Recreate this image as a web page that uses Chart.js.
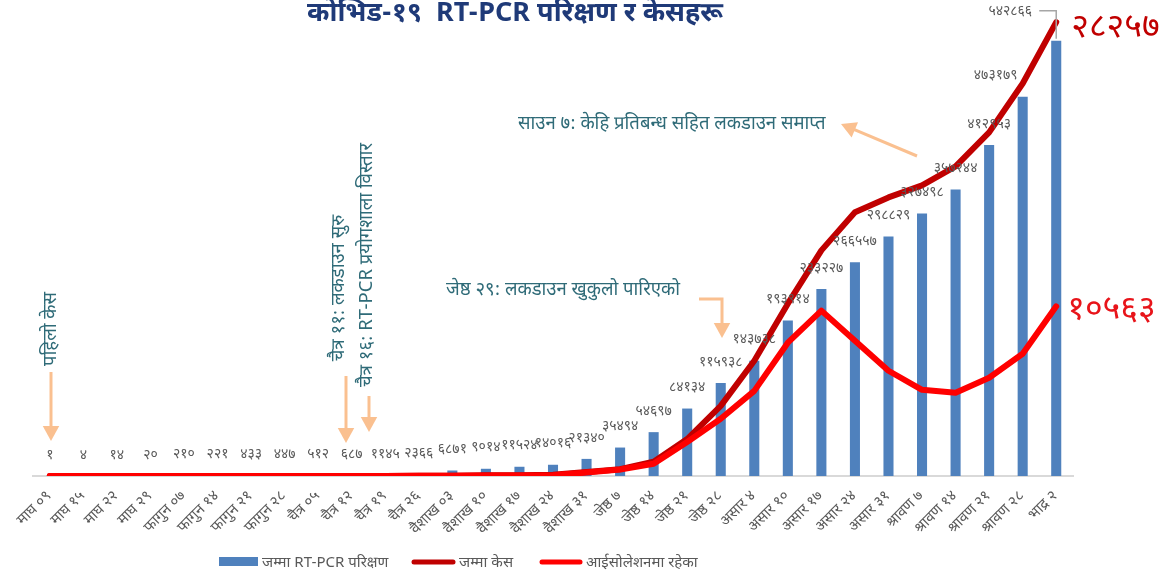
<!DOCTYPE html>
<html>
<head>
<meta charset="utf-8">
<script src="https://cdn.jsdelivr.net/npm/chart.js@4.4.0/dist/chart.umd.min.js"></script>
<style>
    html, body { margin: 0; padding: 0; background: #fff; }
    #myChart { display: block; }
</style>
</head>
<body>
<canvas id="myChart" width="1166" height="579"></canvas>
<script>
//********************************************************************************//
//                            Data
//********************************************************************************//
var labels = ['माघ ०९', 'माघ १५', 'माघ २२', 'माघ २९', 'फागुन ०७', 'फागुन १४', 'फागुन २१', 'फागुन २८',
    'चैत्र ०५', 'चैत्र १२', 'चैत्र १९', 'चैत्र २६', 'वैशाख ०३', 'वैशाख १०', 'वैशाख १७', 'वैशाख २४',
    'वैशाख ३१', 'जेष्ठ ७', 'जेष्ठ १४', 'जेष्ठ २१', 'जेष्ठ २८', 'असार ४', 'असार १०', 'असार १७',
    'असार २४', 'असार ३१', 'श्रावण ७', 'श्रावण १४', 'श्रावण २१', 'श्रावण २८', 'भाद्र २'];

var testsCount = [1, 4, 14, 20, 210, 221, 433, 447, 512, 687, 1145, 2366, 6871, 9014, 11524, 14016,
    21340, 35494, 54697, 84134, 115938, 143738, 193914, 233227, 266557, 298829, 327498, 357244,
    412953, 473179, 542866];

var casesCount = [1, 1, 1, 1, 1, 1, 1, 1, 1, 2, 5, 9, 16, 45, 52, 82,
    249, 427, 886, 2300, 4364, 7177, 10728, 14046, 16422, 17344, 18094, 19273, 21390, 24432, 28257];

var isolationCount = [1, 0, 0, 0, 0, 0, 0, 0, 1, 2, 5, 8, 15, 38, 37, 53,
    215, 400, 760, 2120, 3560, 5300, 8300, 10296, 8424, 6552, 5366, 5180, 6115, 7613, 10563];

var seriesNames = ['जम्मा RT-PCR परिक्षण', 'जम्मा केस', 'आईसोलेशनमा रहेका'];
var chartTitle = 'कोभिड-१९  RT-PCR परिक्षण र केसहरू';

var FONT = '"Noto Sans Devanagari", "Lohit Devanagari", "Noto Sans", sans-serif';
var NEP_DIGITS = ['०', '१', '२', '३', '४', '५', '६', '७', '८', '९'];

function toNepali(n) {
    return String(n).replace(/[0-9]/g, function (d) { return NEP_DIGITS[+d]; });
}

var CovidChart = function () {

    //********************************************************************************//
    //                            Helpers
    //********************************************************************************//
    var peach = '#FAC090';
    var teal = '#2F6B78';

    function arrowHead(ctx, x, y, angle, size) {
        ctx.save();
        ctx.translate(x, y);
        ctx.rotate(angle);
        ctx.beginPath();
        ctx.moveTo(0, 0);
        ctx.lineTo(-size, -size * 0.55);
        ctx.lineTo(-size, size * 0.55);
        ctx.closePath();
        ctx.fill();
        ctx.restore();
    }

    function arrow(ctx, pts) {
        ctx.save();
        ctx.strokeStyle = peach;
        ctx.fillStyle = peach;
        ctx.lineWidth = 3;
        var n = pts.length;
        var last = pts[n - 1], prev = pts[n - 2];
        var ang = Math.atan2(last[1] - prev[1], last[0] - prev[0]);
        ctx.beginPath();
        ctx.moveTo(pts[0][0], pts[0][1]);
        for (var i = 1; i < n - 1; i++) ctx.lineTo(pts[i][0], pts[i][1]);
        ctx.lineTo(last[0] - Math.cos(ang) * 12, last[1] - Math.sin(ang) * 12);
        ctx.stroke();
        arrowHead(ctx, last[0], last[1], ang, 15);
        ctx.restore();
    }

    function vText(ctx, text, x, y) {
        ctx.save();
        ctx.translate(x, y);
        ctx.rotate(-Math.PI / 2);
        ctx.textAlign = 'center';
        ctx.textBaseline = 'middle';
        ctx.fillText(text, 0, 0);
        ctx.restore();
    }

    //********************************************************************************//
    //                            Plugins
    //********************************************************************************//
    var barLabels = {
        id: 'barLabels',
        afterDatasetsDraw: function (chart) {
            var ctx = chart.ctx;
            var meta = chart.getDatasetMeta(0);
            var shift = {29: [-27, 0], 30: [-46, -8]};
            ctx.save();
            ctx.font = '14px ' + FONT;
            ctx.fillStyle = '#595959';
            ctx.textAlign = 'center';
            ctx.textBaseline = 'middle';
            meta.data.forEach(function (bar, i) {
                var s = shift[i] || [0, 0];
                var x = bar.x + s[0], y = bar.y - 20 + s[1];
                ctx.fillText(toNepali(testsCount[i]), x, y);
                if (i === 30) {
                    ctx.strokeStyle = '#A6A6A6';
                    ctx.lineWidth = 1.5;
                    ctx.beginPath();
                    ctx.moveTo(x + 29, y - 2);
                    ctx.lineTo(bar.x, y - 2);
                    ctx.lineTo(bar.x, bar.y - 2);
                    ctx.stroke();
                }
            });
            ctx.restore();
        }
    };

    var notes = {
        id: 'notes',
        afterDraw: function (chart) {
            var ctx = chart.ctx;
            var cases = chart.getDatasetMeta(1).data;
            var iso = chart.getDatasetMeta(2).data;
            var lastC = cases[cases.length - 1], lastI = iso[iso.length - 1];
            ctx.save();

            // title
            ctx.font = 'bold 27px ' + FONT;
            ctx.fillStyle = '#1F3A78';
            ctx.textAlign = 'center';
            ctx.textBaseline = 'alphabetic';
            ctx.fillText(chartTitle, 515, 21);

            // final values
            ctx.textAlign = 'left';
            ctx.textBaseline = 'middle';
            ctx.font = '34px ' + FONT;
            ctx.fillStyle = '#C00000';
            ctx.fillText(toNepali(casesCount[casesCount.length - 1]), lastC.x + 15, lastC.y + 9);
            ctx.fillStyle = '#E8141A';
            ctx.fillText(toNepali(isolationCount[isolationCount.length - 1]), lastI.x + 11, lastI.y + 6);

            // event notes
            ctx.fillStyle = teal;
            ctx.font = '18.5px ' + FONT;
            ctx.textAlign = 'left';
            ctx.fillText('साउन ७: केहि प्रतिबन्ध सहित लकडाउन समाप्त', 518, 126);
            ctx.fillText('जेष्ठ २९: लकडाउन खुकुलो पारिएको', 446, 292);
            vText(ctx, 'पहिलो केस', 53, 329);
            vText(ctx, 'चैत्र ११: लकडाउन सुरु', 341, 288);
            vText(ctx, 'चैत्र १६: RT-PCR प्रयोगशाला विस्तार', 369, 265);

            arrow(ctx, [[51, 372], [51, 441]]);
            arrow(ctx, [[346, 376], [346, 443]]);
            arrow(ctx, [[369, 396], [369, 432]]);
            arrow(ctx, [[699, 299], [722, 299], [722, 338]]);
            arrow(ctx, [[917, 156], [841, 124]]);

            // legend
            var items = [[219, 39], [412, 43], [540, 42]];
            var ly = 562;
            ctx.font = '15px ' + FONT;
            chart.data.datasets.forEach(function (ds, i) {
                var x = items[i][0], w = items[i][1];
                if (ds.type === 'bar') {
                    ctx.fillStyle = ds.backgroundColor;
                    ctx.fillRect(x, ly - 5, w, 9);
                } else {
                    ctx.strokeStyle = ds.borderColor;
                    ctx.lineWidth = 5;
                    ctx.lineCap = 'round';
                    ctx.beginPath();
                    ctx.moveTo(x + 2, ly);
                    ctx.lineTo(x + w - 2, ly);
                    ctx.stroke();
                }
                ctx.fillStyle = '#595959';
                ctx.fillText(ds.label, x + w + 4, ly + 2);
            });
            ctx.restore();
        }
    };

    //********************************************************************************//
    //                            Config
    //********************************************************************************//
    var data = {
        labels: labels,
        datasets: [{
            type: 'bar',
            label: seriesNames[0],
            data: testsCount,
            backgroundColor: '#4F81BD',
            barPercentage: 0.3,
            categoryPercentage: 1,
            yAxisID: 'y',
            order: 3
        }, {
            type: 'line',
            label: seriesNames[1],
            data: casesCount,
            borderColor: '#C00000',
            borderWidth: 6,
            pointRadius: 0,
            tension: 0,
            borderCapStyle: 'round',
            borderJoinStyle: 'round',
            yAxisID: 'y1',
            order: 2
        }, {
            type: 'line',
            label: seriesNames[2],
            data: isolationCount,
            borderColor: '#FF0000',
            borderWidth: 6,
            pointRadius: 0,
            tension: 0,
            borderCapStyle: 'round',
            borderJoinStyle: 'round',
            yAxisID: 'y1',
            order: 1
        }]
    };

    var config = {
        data: data,
        options: {
            responsive: false,
            animation: false,
            layout: { padding: { left: 33, right: 93, top: 15, bottom: 0 } },
            plugins: {
                legend: { display: false },
                tooltip: { enabled: false }
            },
            scales: {
                x: {
                    grid: { display: false },
                    border: { display: true, color: '#D9D9D9', width: 2 },
                    ticks: {
                        autoSkip: false,
                        maxRotation: 45,
                        minRotation: 45,
                        padding: 4,
                        color: '#595959',
                        font: { size: 15, family: FONT }
                    },
                    afterFit: function (scale) { scale.height = 103; }
                },
                y: { display: false, min: 0, max: 575000 },
                y1: { display: false, min: 0, max: 28700 }
            }
        },
        plugins: [barLabels, notes]
    };

    var initChart = function () {
        new Chart(document.getElementById('myChart'), config);
    };

    return {
        init: function () {
            initChart();
        }
    };
}();

window.addEventListener('load', function () {
    CovidChart.init();
});
</script>
</body>
</html>
